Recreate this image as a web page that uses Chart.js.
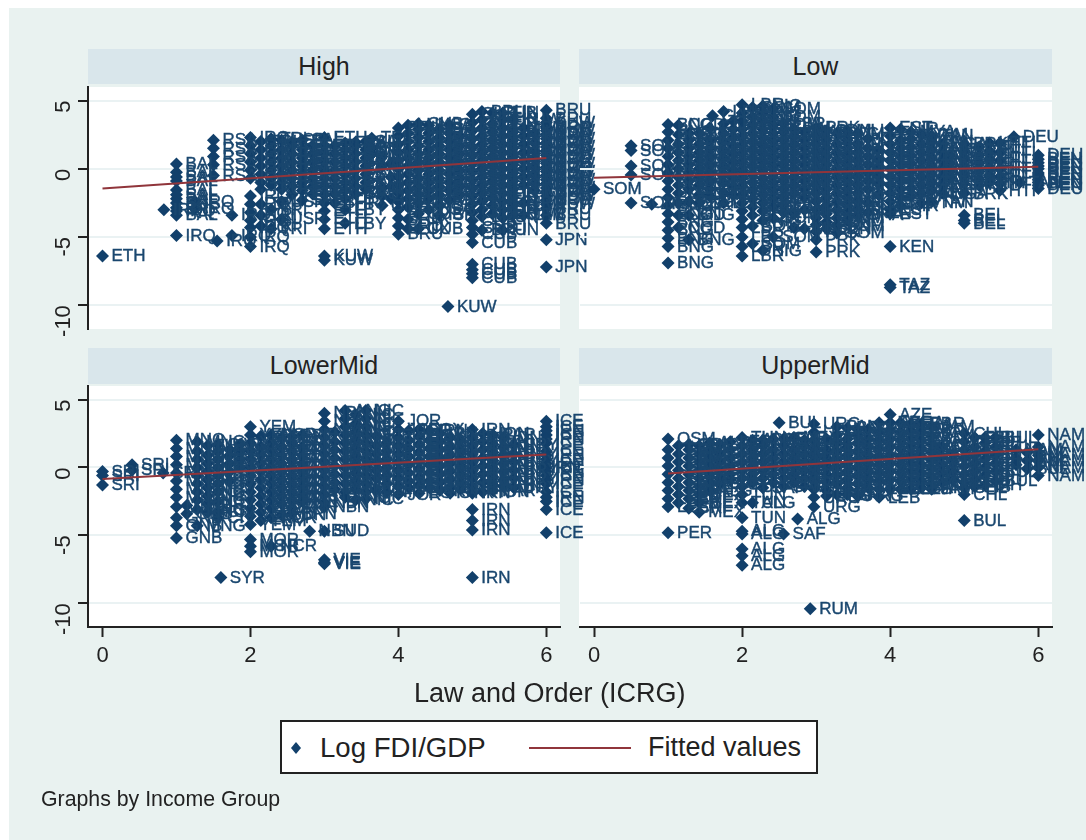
<!DOCTYPE html>
<html><head><meta charset="utf-8">
<script src="https://cdn.jsdelivr.net/npm/chart.js@4"></script>
<style>
html,body{margin:0;padding:0;background:#fff;width:1086px;height:840px;overflow:hidden;font-family:"Liberation Sans",Arial,sans-serif}
#bg{position:absolute;left:9px;top:8px;width:1077px;height:832px;background:#e9f2f0}
.plot{position:absolute;background:#fff}
.head{position:absolute;background:#d9e6eb;text-align:center;font-size:25px;line-height:34px;color:#222}
canvas{position:absolute;left:0;top:0;filter:blur(0.4px)}
.t{position:absolute;color:#222;white-space:nowrap}
#legend{position:absolute;left:280px;top:720px;width:534px;height:50px;background:#fff;border:2px solid #222}
</style></head><body>
<div id="bg"></div>
<div class="plot" style="left:88px;top:87px;width:472px;height:242px"></div>
<div class="plot" style="left:579px;top:87px;width:473px;height:242px"></div>
<div class="plot" style="left:88px;top:386px;width:472px;height:241px"></div>
<div class="plot" style="left:579px;top:386px;width:473px;height:241px"></div>
<div class="head" style="left:88px;top:49px;width:472px;height:35px">High</div>
<div class="head" style="left:579px;top:49px;width:473px;height:35px">Low</div>
<div class="head" style="left:88px;top:348px;width:472px;height:36px">LowerMid</div>
<div class="head" style="left:579px;top:348px;width:473px;height:36px">UpperMid</div>
<canvas id="c0" width="1086" height="840"></canvas>
<canvas id="c1" width="1086" height="840"></canvas>
<canvas id="c2" width="1086" height="840"></canvas>
<canvas id="c3" width="1086" height="840"></canvas>
<div class="t" style="left:414px;top:678px;font-size:27px">Law and Order (ICRG)</div>
<div id="legend">
<svg width="534" height="50" style="position:absolute;left:0;top:0"><path d="M14 20 L19 26 L14 32 L9 26 Z" fill="#12406b"/><line x1="247" x2="349" y1="26" y2="26" stroke="#90353b" stroke-width="2"/></svg>
<div class="t" style="left:38px;top:10px;font-size:27.6px">Log FDI/GDP</div>
<div class="t" style="left:366px;top:10px;font-size:27px">Fitted values</div>
</div>
<div class="t" style="left:41px;top:787px;font-size:21.3px">Graphs by Income Group</div>
<script>
const xTicks=[0,2,4,6];
const yTicks=[-10,-5,0,5];
const fitX={High:[0,6],Low:[0,6],LowerMid:[0,6],UpperMid:[1,6]};
const fitY={High:[-1.45,0.8],Low:[-0.65,0.15],LowerMid:[-0.85,0.95],UpperMid:[-0.45,1.35]};

const highX=[0,0.83,1,1,1,1.25,1.5,1.55,1.75,2,2.14,2.28,2.42,2.56,2.7,2.84,3,3,3.14,3.28,3.42,3.56,3.64,3.78,3.9,4,4.13,4.27,4.41,4.55,4.67,4.69,4.83,5,5,5.13,5.27,5.41,5.55,5.69,5.84,6,6,6,6,6];
const highCodes=['ETH','IRQ','BAL','IRQ','SAL','IRQ','RSA','IRQ','IRQ','IRQ','TRI','TRI','USR','TEL','SAL','TEL','ETH','KUW','BHR','LBY','SAU','SAI','TEL','OMA','ISR','BRU','LUX','CUB','USA','ISR','KUW','CUB','CUB','CUB','CUB','BRU','CUB','FIN','KUW','JPN','KUW','BRU','JPN','JPN','KUW','NOR'];
const highY=[[-6.4],[-3],[0.35,-0.25,-0.9,-1.55,-2.2,-2.85,-3.4],[-4.9,-3.1],[-0.6,-1.9,-2.5],[-2.4,-2.95],[2.1,1.5,0.9,0.3,-0.5],[-5.3],[-3.4,-4.9],[2.3,1.7,1.1,0.5,-0.1,-0.7,-2,-2.6,-3.2,-3.8,-4.3,-5,-5.7],
[2,1.4,0.8,0.2,-0.4,-1,-1.5,-2.6,-3.4,-4.2],[2.2,1.7,1.1,0.5,-0.1,-0.7,-1.2,-3,-4.4],[2.1,1.4,0.8,0.2,-0.4,-1,-1.5,-2.4,-3.7],[1.95,1.7,1.1,0.5,-0.1,-0.7,-1.3,-1.9],[2.1,1.4,0.8,0.2,-0.4,-1,-1.6,-2.3],[1.7,1.1,0.5,-0.1,-0.7,-1.3,-1.85],[2.3,1.7,1.1,0.5,-0.1,-0.7,-1.3,-1.9,-2.5,-3.1,-3.7,-4.4],[-6.4,-6.7],[1.7,1.1,0.5,-0.1,-0.7,-1.3,-1.85,-2.5],[1.9,1.4,0.8,0.2,-0.4,-1,-1.6,-2.2,-3,-4],[1.95,1.7,1.1,0.5,-0.1,-0.7,-1.3,-1.85],[2,1.4,0.8,0.2,-0.4,-1,-1.5],[2.25,1.5,1.1],[0.9,0.2,-1.4,-2,-2.7],[0.4,-0.6,-1.3,-2.2],
[3,2.4,1.8,1.2,0.6,0,-0.6,-1.2,-1.8,-2.4,-3,-3.6,-4.2,-4.8],[3.2,2.6,2,1.4,0.8,0.2,-0.4,-1,-1.6,-2.2,-2.8,-3.7,-4.4],[3.3,2.9,2.3,1.7,1.1,0.5,-0.1,-0.7,-1.3,-1.9,-2.5,-3.3,-4.4],[3.2,2.6,2,1.4,0.8,0.2,-0.4,-1,-1.6,-2.2,-3],[2.9,2.3,1.7,1.1,0.5,-0.1,-0.7,-1.3,-1.9,-2.7,-3.4],[-10.1],[3.2,2.6,2,1.4,0.8,0.2,-0.4,-1,-1.6,-2.3],[2.4,1.7,1.1,0.5,-0.1,-0.7,-1.3,-1.9],[4,3.4,2.8,2.2,1.6,1,0.4,-0.2,-0.8,-1.4,-2,-2.6,-3.2,-3.8,-4.3,-4.8,-5.4],[-7,-7.4,-7.7,-8],[4.2,3.6,3,2.4,1.8,1.2,0.6,0,-0.6,-1.2,-1.8,-2.4,-3,-3.5,-4.5],[4.1,3.3,2.7,2.1,1.5,0.9,0.3,-0.3,-0.9,-1.5,-2.1,-2.7,-3.3],[4.1,3.6,3,2.4,1.8,1.2,0.6,0,-0.6,-1.2,-1.8,-2.4,-3,-3.6,-4.5],[3.6,2.7,2.1,1.5,0.9,0.3,-0.3,-0.9,-1.5,-2.1,-2.7,-3.4],[3,2.4,1.8,1.2,0.6,0,-0.6,-1.2,-2.5,-3.4],[2.6,1.9,1.3,0.7,0.1,-0.5,-1.1,-1.6],
[4.3,3.7,3.1,2.5,1.9,1.3,0.7,0.1,-0.5,-1.1,-1.7,-2.3,-2.9,-3.4,-4],[-5.2],[-7.2],[3.4,2.8,2.2,1.6,1,0.4,-0.2,-0.8,-1.4,-2,-2.6],[3,2.5,1.9,1.3,0.7,0.1,-0.5,-1.1,-1.7,-2.3]];

const lowX=[0,0.5,0.78,1,1,1.14,1.28,1.42,1.56,1.6,1.75,1.88,2,2.14,2.28,2.42,2.56,2.7,2.84,3,3,3.14,3.28,3.42,3.56,3.7,3.84,4,4,4,4.14,4.28,4.42,4.56,4.7,4.8,5,5,5.2,5.34,5.48,5.67,5.75,6,6];
const lowCodes=['SOM','SOM','ZIM','BNG','BNG','COD','BNG','ZAM','GAM','GAM','LBR','LBR','LBR','SOM','NIG','SOM','LBR','HAI','MAD','PRK','PRK','SDN','SOM','MLI','GHA','KEN','KEN','EST','KEN','TAZ','NIR','MYA','VNM','TAN','UGA','UGA','BRK','BEL','HTI','HTI','HTI','DEU','TAN','DEU','BEN'];
const lowY=[[-1.5],[1.7,1.35,0.2,-0.45,-2.5],[-2.6],[3.25,2.7,2.1,1.5,0.9,0.3,-0.3,-0.9,-1.5,-2.1,-2.7,-3.3,-3.9,-4.5,-5.1,-5.7],[-6.9],[3.2,2.5,1.8,1.2,0.6,0,-0.6,-1.2,-1.8,-2.5,-4.3,-3.4],[2.6,2.1,1.5,0.9,0.3,-0.3,-0.9,-1.5,-2.4,-3.4,-5.2],[2.6,1.8,1.2,0.6,0,-0.6,-1.2,-1.9,-2.5],[3,2.1,1.5,0.9,0.3,-0.3,-0.9,-1.5,-2],[3.9],[4.2,3.3,2.6,2,1.4,0.8,0.2,-0.4,-1,-1.8,-2.5],[3.5,2.9,2.3,1.7,1.1,0.5,-0.1,-0.7,-1.3,-1.9],[4.7,4.1,3.5,2.9,2.3,1.7,1.1,0.5,-0.1,-0.7,-1.3,-1.9,-2.5,-3.1,-3.7,-4.3,-5,-5.7,-6.4],[4.5,3.8,3.2,2.6,2,1.4,0.8,0.2,-0.4,-1,-1.6,-2.2,-2.8,-3.4,-4.2,-5.5],[4.6,4.1,3.5,2.9,2.3,1.7,1.1,0.5,-0.1,-0.7,-1.3,-1.9,-2.5,-3.1,-3.8,-6],[4.4,3.8,3.2,2.6,2,1.4,0.8,0.2,-0.4,-1,-1.6,-2.2,-2.8,-3.6,-5],[3.3,2.7,2.1,1.5,0.9,0.3,-0.3,-0.9,-1.5,-2.1,-2.7,-3.2],[2.9,2.4,1.8,1.2,0.6,0,-0.6,-1.2,-1.8,-3.3,-4.3],[2.7,2.1,1.5,0.9,0.3,-0.3,-0.9,-1.5,-2.1,-3,-4.4],[3,2.4,1.8,1.2,0.6,0,-0.6,-1.2,-1.8,-2.4,-3,-3.6,-4.1,-4.6,-5.2],[-6.1],[2.8,2.1,1.5,0.9,0.3,-0.3,-0.9,-1.5,-2.1,-2.7,-3.3,-3.9,-4.4],[2.6,1.8,1.2,0.6,0,-0.6,-1.2,-1.8,-2.4,-3,-3.6,-4.2,-4.7],[2.8,2.1,1.5,0.9,0.3,-0.3,-0.9,-1.5,-2.1,-2.7,-3.3,-3.8],[2.6,1.8,1.2,0.6,0,-0.6,-1.2,-1.8,-2.4,-3,-3.4],[2.2,1.5,0.9,0.3,-0.3,-0.9,-1.5,-2.5,-3.2],[1.4,0.7,0.1,-0.5,-1.1,-1.9],[3,2.4,1.8,1.2,0.6,0,-0.6,-1.2,-1.8,-2.4,-3,-3.3],[-5.7],[-8.5,-8.7],[2.9,2.1,1.5,0.9,0.3,-0.3,-0.9,-1.5,-2.1,-2.7],[2.7,2.2,1.6,1,0.4,-0.2,-0.8,-1.4,-2],[2.5,1.8,1.2,0.6,0,-0.6,-1.2,-1.8,-2.5],[2.4,2,1.4,0.8,0.2,-0.4,-1,-1.6,-2.4],[1.8,1.2,0.6,0,-0.6,-1.2,-1.8],[1,0.4,-0.2,-0.7],[1.8,1.3,0.7,0.1,-0.5,-1.1,-1.8],[-3.4,-3.8,-4],[1.6,1,0.4,-0.2,-0.8,-1.2],[1.9,1.3,0.7,0.1,-0.5,-1],[1.9,1.2,0.6,0,-0.6,-1.1,-1.6],[2.35],[-1],[1,0.45,0,-0.45,-1,-1.45],[0.7,0.2,-0.3,-0.8,-1.2]];

const lowerX=[0,0.4,0.82,1,1,1.14,1.28,1.42,1.56,1.6,1.72,1.86,2,2,2.14,2.28,2.42,2.56,2.7,2.8,3,3,3,3.14,3.28,3.42,3.56,3.7,3.84,4,4.14,4.28,4.42,4.56,4.7,4.84,5,5,5,5.14,5.28,5.42,5.56,5.95,6,6,6];
const lowerCodes=['SRI','SRI','SRI','MNG','GNB','GNB','MNG','NIC','CIV','SYR','PAK','PAK','YEM','MOR','YEM','NCR','SDN','BRN','VIE','NBN','NBN','SUD','VIE','IND','ANG','NIC','NIC','VIE','NIC','JOR','JOR','EGY','IRN','IRN','SYR','IRN','IRN','IRN','IRN','HON','PAR','IDN','URY','IRN','ICE','ICE','IRN'];
const lowerY=[[-0.3,-0.6,-1.3],[0.2,-0.2],[-0.4],[2,1.4,0.8,0.2,-0.4,-1,-1.6,-2.2,-2.9],[-3.7,-4.3,-5.2],[-2.8,-3.4],[1.9,1.2,0.6,0,-0.6,-1.2,-1.8,-2.4,-3.1,-4.3],[1.6,0.9,0.3,-0.3,-0.9,-1.5,-2.1,-2.7,-3.3],[1.7,1.2,0.6,0,-0.6,-1.2,-1.8,-2.5,-3.3,-3.7],[-8.1],[1.3,0.9,0.3,-0.3,-1],[1.7,1.2,0.6,0],[3,2.4,1.8,1.2,0.6,0,-0.6,-1.2,-1.8,-2.4,-3,-3.6,-4.2],[-5.3,-5.8,-6.2],[2.3,1.5,0.9,0.3,-0.3,-0.9,-1.5,-2.1,-2.7,-3.3,-3.9],[2.4,1.8,1.2,0.6,0,-0.6,-1.2,-1.8,-2.4,-3,-3.7,-5.8],[2.2,1.5,0.9,0.3,-0.3,-0.9,-1.5,-2.1,-2.7,-3.5],[2.3,1.8,1.2,0.6,0,-0.6,-1.2,-1.8,-2.4,-3,-3.4],[2.4,1.5,0.9,0.3,-0.3,-0.9,-1.5,-2.1,-2.5],[-4.7],[4,3.4,2.8,2.2,1.6,1,0.4,-0.2,-0.8,-1.4,-2,-2.6,-2.9],[-4.7],[-6.8,-7,-7.1],[2.6,1.9,1.3,0.7,0.1,-0.5,-1.1,-1.6],[4.2,3.6,3,2.4,1.8,1.2,0.6,0,-0.6,-1.2,-1.8,-2.2],[3.9,3.2,2.6,2,1.4,0.8,0.2,-0.4,-1,-1.6,-2.4],[4.2,3.6,3,2.4,1.8,1.2,0.6,0,-0.6,-1.2,-1.8,-2.3],[2.3,1.6,1,0.4,-0.2,-0.8,-1.6],[1.8,1.2,0.6,0,-0.6,-1.2,-1.8],[3.4,2.8,2.2,1.6,1,0.4,-0.2,-0.8,-1.4,-2],[2.7,2,1.4,0.8,0.2,-0.4,-1,-1.5],[2.8,2.3,1.7,1.1,0.5,-0.1,-0.7,-1.3,-1.9],[2.7,2,1.4,0.8,0.2,-0.4,-1,-1.5],[2.5,1.9,1.3,0.7,0.1,-0.5,-1.1,-1.7],[2.2,1.5,0.9,0.3,-0.3,-0.9,-1.5,-1.9],[2,1.3,0.7,0.1,-0.5,-1.1,-1.6],[2.8,2.2,1.6,1,0.4,-0.2,-0.8,-1.4,-1.9],[-3.1,-3.9,-4.6],[-8.1],[2.5,1.9,1.3,0.7,0.1,-0.5,-1.1,-1.8],[2.4,1.7,1.1,0.5,-0.1,-0.7,-1.3,-1.7],[2.2,1.5,0.9,0.3,-0.3,-0.9,-1.4],[1.7,1,0.4,-0.2,-0.8,-1.5],[0],[3.4,3,2.4,1.8,1.2,0.6,0,-0.6,-1.2,-1.8,-2.5,-3.1],[-4.8],[2.7,2.1,0.9,0.3,-0.3,-0.9,-2.2]];

const upperX=[1,1,1,1.14,1.28,1.42,1.56,1.7,1.84,2,2,2,2.14,2.28,2.42,2.5,2.56,2.7,2.75,2.84,2.92,2.97,3.14,3.28,3.42,3.56,3.7,3.85,4,4.14,4.28,4.42,4.56,4.7,4.85,5,5,5.14,5.28,5.42,5.7,5.85,6];
const upperCodes=['OSM','LEB','PER','LEB','CRI','MEX','ALG','SAF','LEB','TUN','ALG','ALG','ALG','SAF','MEX','BUL','SAF','MEX','ALG','MAL','RUM','URG','URG','PAN','BRA','ARG','MAL','LEB','AZE','BRA','LEB','BAR','JAM','CHL','BIH','CHL','BUL','EIB','BIH','BUL','NAM','BUL','NAM'];
const upperY=[[2.1],[1.3,0.7,0.1,-0.5,-1.1,-1.7,-2.3,-2.9],[-4.8],[1.6,1,0.4,-0.2,-0.8,-1.4,-2,-2.6],[1.7,1.3,0.7,0.1,-0.5,-1.1,-1.7,-2.3,-3],[1.6,1,0.4,-0.2,-0.8,-1.4,-2,-2.6,-3.3],[1.8,1.3,0.7,0.1,-0.5,-1.1,-1.7],[1.7,1,0.4,-0.2,-0.8,-1.2],[1.9,1.3,0.7,0.1,-0.5,-0.9],[2.2,1.6,1,0.4,-0.2,-0.8,-1.4,-2,-2.6,-3.7],[-4.7,-4.9],[-6,-6.5,-7.2],[2,1.3,0.7,0.1,-0.5,-1.1,-2.6],[2,1.6,1,0.4,-0.2,-0.8,-1.5],[2.1,1.3,0.7,0.1,-0.5,-1.1],[3.3],[2.1,1.6,1,0.4,-0.2,-0.8,-1.4,-4.9],[2.2,1.3,0.7,0.1,-0.5,-1.1],[-3.8],[2,1.6,1,0.4,-0.2,-0.8,-1.4],[-10.4],[3.2,2.6,2,1.4,0.8,0.2,-0.4,-1,-1.6,-2.2,-2.9],[2.1,1.3,0.7,0.1,-0.5,-1.1,-1.7,-2.1],[3,2.4,1.8,1.2,0.6,0,-0.6,-1.2,-2],[2.9,2.1,1.5,0.9,0.3,-0.3,-0.9,-1.5,-2],[2.8,2.4,1.8,1.2,0.6,0,-0.6,-1.2,-2.1],[2.8,2.1,1.5,0.9,0.3,-0.3,-0.9,-1.5],[3.3,2.6,2,1.4,0.8,0.2,-0.4,-1,-1.6,-2.2],[3.9,3.3,2.7,2.1,1.5,0.9,0.3,-0.3,-0.9,-1.6],[3.3,2.6,2,1.4,0.8,0.2,-0.4,-1,-1.6],[3.2,2.7,2.1,1.5,0.9,0.3,-0.3,-0.9,-1.6],[3.2,2.6,2,1.4,0.8,0.2,-0.4,-1,-1.5],[3,2.3,1.7,1.1,0.5,-0.1,-0.7,-1.3,-1.6],[1.5,0.8,0.2,-0.4,-1.1],[1,0.4,-0.3,-0.9],[2.5,1.9,1.3,0.7,0.1,-0.5,-1.1,-1.5,-2],[-3.9],[2.2,1.5,0.9,0.3,-0.3,-0.9,-1.4],[2.2,1.8,1.2,0.6,0,-0.6,-1.3],[2.2,1.5,0.9,0.3,-0.3,-1],[1.3,0.7,0.2],[1.1,0.5,-0.1],[2.4,1.5,0.9,0.5,0,-0.6]];

const panels=[
 {name:'High',xs:highX,codes:highCodes,ys:highY,left:88,right:560,top:87,bottom:329,yAxis:true,xAxis:false},
 {name:'Low',xs:lowX,codes:lowCodes,ys:lowY,left:579.5,right:1052,top:87,bottom:329,yAxis:false,xAxis:false},
 {name:'LowerMid',xs:lowerX,codes:lowerCodes,ys:lowerY,left:88,right:560,top:386,bottom:627,yAxis:true,xAxis:true},
 {name:'UpperMid',xs:upperX,codes:upperCodes,ys:upperY,left:579.5,right:1052,top:386,bottom:627,yAxis:false,xAxis:true}
];

const labelPlugin={id:'codes',afterDatasetDraw(chart,args){
  if(args.index!==0)return;
  const ctx=chart.ctx,pts=chart.getDatasetMeta(0).data,ds=chart.data.datasets[0];
  ctx.save();ctx.font='17px "Liberation Sans"';ctx.fillStyle='#1a476f';ctx.strokeStyle='#1a476f';ctx.lineWidth=0.4;ctx.textBaseline='middle';ctx.textAlign='left';
  pts.forEach((p,i)=>{ctx.fillText(ds.data[i].code,p.x+9,p.y+0.5);ctx.strokeText(ds.data[i].code,p.x+9,p.y+0.5);});
  ctx.restore();
}};

panels.forEach((p,k)=>{
  const pts=[];
  p.xs.forEach((x,i)=>p.ys[i].forEach(y=>pts.push({x,y,code:p.codes[i]})));
  const yW=p.yAxis?48:0, xH=p.xAxis?44:0;
  new Chart(document.getElementById('c'+k),{
    type:'scatter',
    data:{datasets:[
      {data:pts,pointStyle:'rectRot',pointRadius:6.5,pointHoverRadius:6.5,backgroundColor:'#12406b',borderWidth:0,order:2,clip:false},
      {type:'line',data:fitX[p.name].map((x,i)=>({x,y:fitY[p.name][i]})),borderColor:'#90353b',borderWidth:2,pointRadius:0,order:1,clip:false,tension:0}
    ]},
    plugins:[labelPlugin],
    options:{responsive:false,animation:false,events:[],
      layout:{padding:{left:p.left-yW,right:1086-p.right,top:p.top,bottom:840-p.bottom-xH}},
      plugins:{legend:{display:false},tooltip:{enabled:false},title:{display:false}},
      scales:{
        x:{type:'linear',min:-0.196,max:6.185,display:p.xAxis,
          afterBuildTicks:s=>{s.ticks=xTicks.map(v=>({value:v}))},
          afterFit:s=>{s.height=xH},
          grid:{display:true,drawOnChartArea:false,drawTicks:true,tickLength:10,tickColor:'#222',tickWidth:2},
          border:{display:true,color:'#222',width:2},
          ticks:{color:'#222',font:{size:22,family:'"Liberation Sans"'},padding:6,maxRotation:0,minRotation:0,autoSkip:false}},
        y:{type:'linear',min:-11.75,max:6,position:'left',
          afterBuildTicks:s=>{s.ticks=yTicks.map(v=>({value:v}))},
          afterFit:s=>{s.width=yW},
          grid:{display:true,color:'#eaf2f3',lineWidth:2,drawTicks:p.yAxis,tickLength:10,tickColor:'#222',tickWidth:2},
          border:{display:p.yAxis,color:'#222',width:2},
          ticks:{display:p.yAxis,color:'#222',font:{size:22,family:'"Liberation Sans"'},padding:14,maxRotation:90,minRotation:90,autoSkip:false}}
      }}
  });
});
</script>
</body></html>
